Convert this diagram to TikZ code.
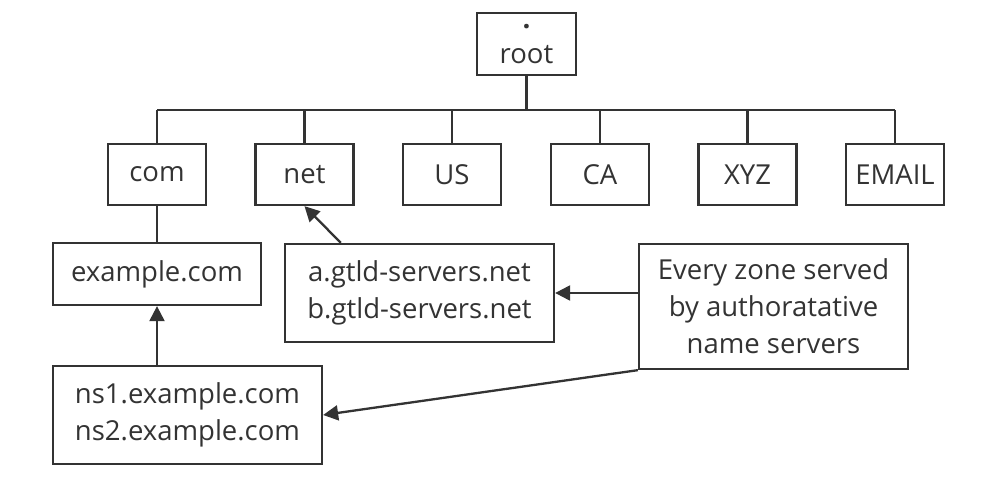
\documentclass[tikz,border=0pt]{standalone}
\usepackage{fontspec}
\setmainfont{Open Sans}
\usetikzlibrary{arrows.meta}
\definecolor{ink}{HTML}{333333}
\begin{document}
\begin{tikzpicture}[x=1pt,y=-1pt,
  box/.style={draw=ink, line width=2.3pt, text=ink, align=center, inner sep=0pt,
    font=\fontsize{27.5}{37}\selectfont},
  link/.style={draw=ink, line width=2.3pt},
  arr/.style={draw=ink, line width=2.3pt, -{Triangle[length=15pt,width=15pt]}}]
\useasboundingbox (0,0) rectangle (999,479);
\node[box, minimum width=99pt, minimum height=62pt] (root) at (526.5,44) {{\bfseries .}\\[-2pt]root};
\foreach \n/\t/\x in {com/com/157, net/net/304.5, us/US/452, ca/CA/600, xyz/XYZ/747.5, email/EMAIL/895}
  \node[box, minimum width=98pt, minimum height=61pt] (\n) at (\x,174.5) {\t};
\node[box, minimum width=208pt, minimum height=62pt] (ex) at (157,274) {example.com};
\node[box, minimum width=269pt, minimum height=98pt] (ns) at (187.5,415) {ns1.example.com\\ns2.example.com};
\node[box, minimum width=269pt, minimum height=98pt] (gtld) at (419.5,293) {a.gtld-servers.net\\b.gtld-servers.net};
\node[box, minimum width=269pt, minimum height=125pt] (every) at (773.5,306.5) {Every zone served\\by authoratative\\name servers};
\coordinate (busL) at (157,110);
\coordinate (busR) at (895,110);
\draw[link] (root.south) -- (root.south |- busL);
\draw[link] (busL) -- (busR);
\foreach \n in {com,net,us,ca,xyz,email}
  \draw[link] (\n.north) -- (\n.north |- busL);
\draw[link] (com.south) -- (ex.north);
\draw[arr] (ex.south |- ns.north) -- (ex.south);
\path (gtld.north west) ++(57,0) coordinate (g1);
\draw[arr] (g1) -- (net.south);
\draw[arr] (every.west |- gtld.east) -- (gtld.east);
\draw[arr] (every.south west) -- (ns.east);
\end{tikzpicture}
\end{document}
